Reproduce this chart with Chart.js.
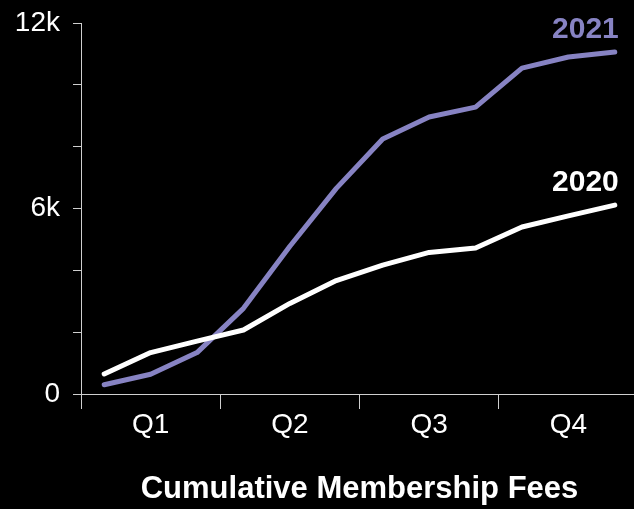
<!DOCTYPE html>
<html>
<head>
<meta charset="utf-8">
<script src="https://cdn.jsdelivr.net/npm/chart.js@4/dist/chart.umd.min.js"></script>
<style>
  html, body { margin: 0; padding: 0; background: #000; overflow: hidden; }
  /* canvas is a little wider than the window: the plot runs off the right edge */
  #wrap { width: 638px; height: 509px; }
</style>
</head>
<body>
<div id="wrap"><canvas id="fees-chart"></canvas></div>
<script>
// ── Data ─────────────────────────────────────────────────────────────────
const months = ['Jan', 'Feb', 'Mar', 'Apr', 'May', 'Jun', 'Jul', 'Aug', 'Sep', 'Oct', 'Nov', 'Dec'];
const quarterLabels = ['Q1', 'Q2', 'Q3', 'Q4'];
const fees2020 = [650, 1340, 1710, 2070, 2930, 3670, 4170, 4580, 4720, 5400, 5760, 6110];
const fees2021 = [300, 640, 1340, 2770, 4780, 6650, 8250, 8960, 9280, 10540, 10900, 11060];
const yTickLabels = { 0: '0', 6000: '6k', 12000: '12k' };

const AXIS = '#cfcfcf';
const WHITE = '#ffffff';
const PURPLE = '#8783c3';
const FONT = "'Liberation Sans', Arial, sans-serif";

// Year label drawn just above the last point of each line.
const endLabels = {
    id: 'endLabels',
    afterDatasetsDraw(chart) {
        const { ctx } = chart;
        chart.data.datasets.forEach((ds, i) => {
            const meta = chart.getDatasetMeta(i);
            const pt = meta.data[meta.data.length - 1];
            if (!pt) return;
            ctx.save();
            ctx.font = `bold 30px ${FONT}`;
            ctx.fillStyle = ds.borderColor;
            ctx.textAlign = 'right';
            ctx.textBaseline = 'middle';
            ctx.fillText(ds.label, pt.x + 4, pt.y - 22);
            ctx.restore();
        });
    },
};

new Chart(document.getElementById('fees-chart'), {
    type: 'line',
    data: {
        labels: months,
        datasets: [
            {
                label: '2020',
                data: fees2020,
                borderColor: WHITE,
                borderWidth: 5,
                borderCapStyle: 'round',
                borderJoinStyle: 'round',
                pointRadius: 0,
                tension: 0,
            },
            {
                label: '2021',
                data: fees2021,
                borderColor: PURPLE,
                borderWidth: 5,
                borderCapStyle: 'round',
                borderJoinStyle: 'round',
                pointRadius: 0,
                tension: 0,
            },
        ],
    },
    options: {
        responsive: true,
        maintainAspectRatio: false,
        animation: false,
        layout: { padding: { top: 23, right: 0, bottom: 0, left: 0 } },
        plugins: {
            legend: { display: false },
            tooltip: { enabled: false },
        },
        scales: {
            x: {
                offset: true,
                grid: {
                    offset: true,
                    drawOnChartArea: false,
                    tickLength: 15,
                    color: c => (c.index % 3 === 0 && c.index < 12 ? AXIS : 'transparent'),
                },
                border: { color: AXIS, width: 1 },
                ticks: {
                    autoSkip: false,
                    maxRotation: 0,
                    padding: -1,
                    color: WHITE,
                    font: { family: FONT, size: 28 },
                    callback: (v, i) => (i % 3 === 1 ? quarterLabels[(i - 1) / 3] : ''),
                },
                title: {
                    display: true,
                    text: 'Cumulative Membership Fees',
                    color: WHITE,
                    font: { family: FONT, size: 31, weight: 'bold' },
                    padding: { top: 0, bottom: 1 },
                },
                afterFit: s => { s.height = 115; },
            },
            y: {
                min: 0,
                max: 12000,
                grid: {
                    drawOnChartArea: false,
                    tickLength: 8,
                    color: AXIS,
                },
                border: { color: AXIS, width: 1 },
                ticks: {
                    stepSize: 2000,
                    padding: 13,
                    color: WHITE,
                    font: { family: FONT, size: 28 },
                    callback: v => yTickLabels[v] ?? '',
                },
                // fixed axis width; drop the label overhang so the plot top sits at the padding
                afterFit: s => { s.width = 81; s.paddingTop = 0; },
            },
        },
    },
    plugins: [endLabels],
});
</script>
</body>
</html>
